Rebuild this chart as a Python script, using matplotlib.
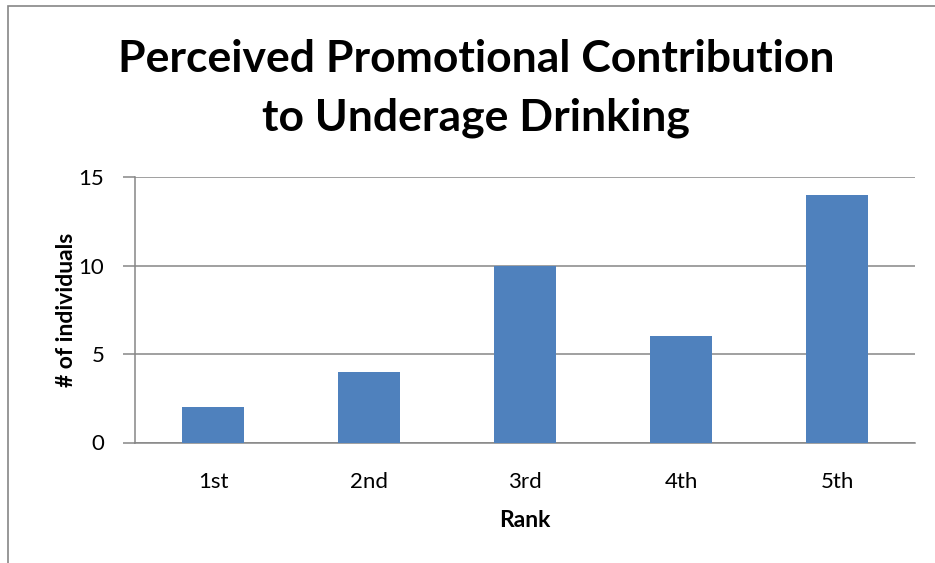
import matplotlib
matplotlib.use('Agg')
import matplotlib.pyplot as plt
from matplotlib.patches import Rectangle

ranks = ['1st', '2nd', '3rd', '4th', '5th']
counts = [2, 4, 10, 6, 14]
yticks = [0, 5, 10, 15]
title_lines = ['Perceived Promotional Contribution', 'to Underage Drinking']

plt.rcParams['font.family'] = ['Lato', 'DejaVu Sans']

W, H = 935, 563
fig = plt.figure(figsize=(W / 100, H / 100), dpi=100)
ax = fig.add_axes([135 / W, 1 - 442.5 / H, 780 / W, 265.5 / H])

# outer chart border (only left/top edges visible)
fig.patches.append(Rectangle((8 / W, -0.1), 1.2, 1 - 6 / H + 0.1, transform=fig.transFigure,
                             fill=False, edgecolor='#868686', lw=1.2))

x = list(range(len(ranks)))
ax.bar(x, counts, width=0.4, color='#4F81BD', zorder=3)
ax.set_xlim(-0.5, len(ranks) - 0.5)
ax.set_ylim(0, 15)
ax.set_yticks(yticks)
ax.set_xticks(x)
ax.set_xticklabels(ranks)
ax.yaxis.grid(True, color='#868686', lw=1.1, zorder=0)
for s in ['top', 'right']:
    ax.spines[s].set_visible(False)
for s in ['left', 'bottom']:
    ax.spines[s].set_color('#868686')
    ax.spines[s].set_linewidth(1.1)
ax.tick_params(axis='y', length=9, color='#868686', width=1.1, labelsize=16, pad=13)
ax.tick_params(axis='x', length=0, labelsize=16, pad=21)

ax.set_xlabel('Rank', fontsize=16.5, fontweight='bold', labelpad=13)
ax.set_ylabel('# of individuals', fontsize=16.5, fontweight='bold', labelpad=1)

for line, base in zip(title_lines, [72, 130]):
    fig.text(476 / W, 1 - base / H, line, ha='center', va='baseline',
             fontsize=32, fontweight='bold')

fig.savefig('out.png', dpi=100)
